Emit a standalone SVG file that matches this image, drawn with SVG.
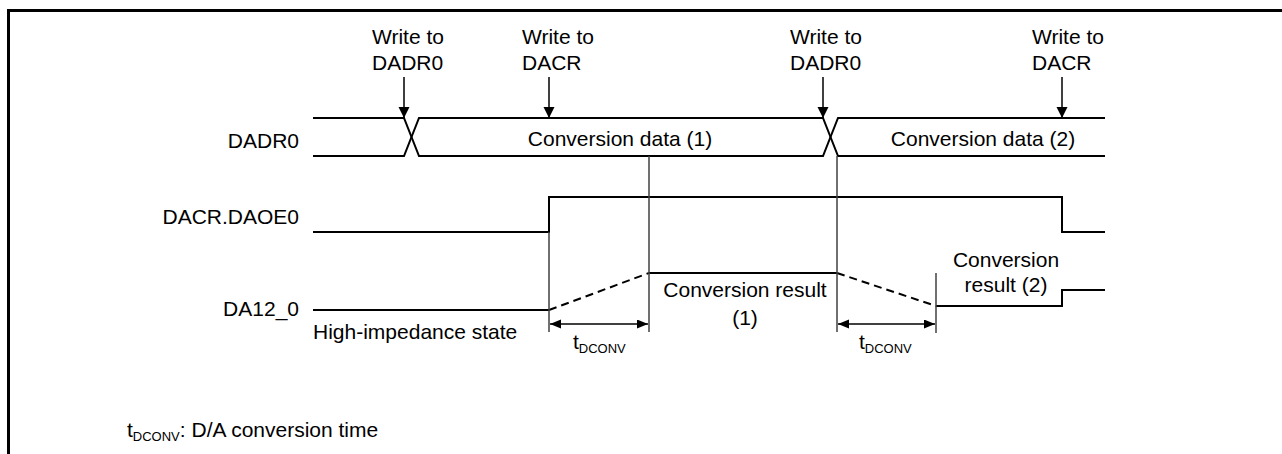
<svg xmlns="http://www.w3.org/2000/svg" width="1282" height="454" viewBox="0 0 1282 454">
<style>
text{font-family:"Liberation Sans",Arial,sans-serif;font-size:21px;fill:#000}
.sig{fill:none;stroke:#000;stroke-width:2}
.dash{fill:none;stroke:#000;stroke-width:2;stroke-dasharray:8 5}
.guide{fill:none;stroke:#404040;stroke-width:1.5}
.arr{fill:none;stroke:#000;stroke-width:1.5}
.sub{font-size:13px}
</style>
<defs>
<marker id="ah" markerUnits="userSpaceOnUse" markerWidth="13" markerHeight="12" refX="11" refY="5.5" orient="auto">
<path d="M0,0 L11,5.5 L0,11 Z" fill="#000"/>
</marker>
<marker id="ahs" markerUnits="userSpaceOnUse" markerWidth="12" markerHeight="10" refX="11" refY="4.5" orient="auto-start-reverse">
<path d="M0,0 L11,4.5 L0,9 Z" fill="#000"/>
</marker>
</defs>
<path d="M8.5,454 V10.5 H1282" fill="none" stroke="#000" stroke-width="3"/>

<g id="signal-labels">
<text x="299" y="148" text-anchor="end">DADR0</text>
<text x="299" y="224" text-anchor="end">DACR.DAOE0</text>
<text x="299" y="316" text-anchor="end">DA12_0</text>
</g>

<g id="DADR0">
<path class="sig" d="M313,118 H404 L419,156 H823 L838,118 H1105"/>
<path class="sig" d="M313,156 H404 L419,118 H823 L838,156 H1105"/>
<text x="620" y="146" text-anchor="middle">Conversion data (1)</text>
<text x="983" y="146" text-anchor="middle">Conversion data (2)</text>
</g>

<g id="DAOE0">
<path class="sig" d="M313,232 H549 V197 H1062 V232 H1105"/>
</g>

<g id="DA12_0">
<path class="sig" d="M313,310 H549"/>
<path class="dash" d="M549,310 L649,273"/>
<path class="sig" d="M649,273 H837"/>
<path class="dash" d="M837,273 L936,306"/>
<path class="sig" d="M936,306 H1062 V290 H1105"/>
<text x="313" y="339">High-impedance state</text>
<text x="745" y="297" text-anchor="middle">Conversion result</text>
<text x="745" y="325" text-anchor="middle">(1)</text>
<text x="1006" y="267" text-anchor="middle">Conversion</text>
<text x="1006" y="292" text-anchor="middle">result (2)</text>
</g>

<g id="write-events">
<text x="372" y="44">Write to</text>
<text x="372" y="70">DADR0</text>
<text x="522" y="44">Write to</text>
<text x="522" y="70">DACR</text>
<text x="790" y="44">Write to</text>
<text x="790" y="70">DADR0</text>
<text x="1032" y="44">Write to</text>
<text x="1032" y="70">DACR</text>
</g>

<g id="connectors">
<path class="arr" d="M404,77 V118" marker-end="url(#ah)"/>
<path class="arr" d="M549,77 V118" marker-end="url(#ah)"/>
<path class="arr" d="M823,77 V118" marker-end="url(#ah)"/>
<path class="arr" d="M1062,77 V118" marker-end="url(#ah)"/>
<path class="guide" d="M549,232 V332"/>
<path class="guide" d="M649,156 V332"/>
<path class="guide" d="M837,156 V332"/>
<path class="guide" d="M936,273 V333"/>
<path class="arr" d="M550,324 H648" marker-start="url(#ahs)" marker-end="url(#ahs)"/>
<path class="arr" d="M838,324 H935" marker-start="url(#ahs)" marker-end="url(#ahs)"/>
</g>

<g id="timing-labels">
<text x="573" y="349">t<tspan class="sub" dy="4">DCONV</tspan></text>
<text x="859" y="349">t<tspan class="sub" dy="4">DCONV</tspan></text>
<text x="127" y="437">t<tspan class="sub" dy="4">DCONV</tspan><tspan dy="-4">: D/A conversion time</tspan></text>
</g>
</svg>
